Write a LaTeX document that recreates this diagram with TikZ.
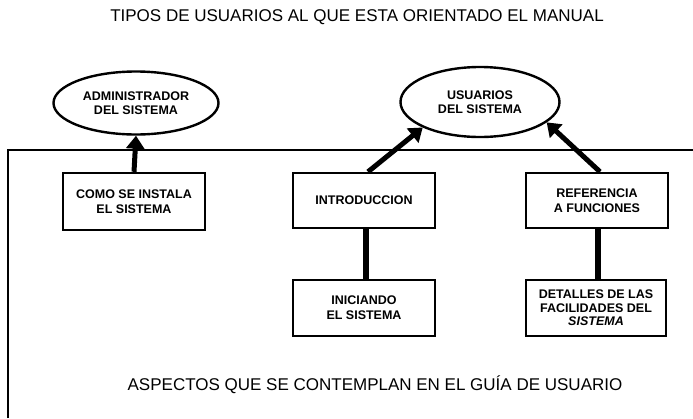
\documentclass[tikz,border=0pt]{standalone}
\usepackage{fontspec}
\setmainfont{Liberation Sans}
\usetikzlibrary{shapes.geometric,arrows.meta}
\begin{document}
\begin{tikzpicture}[x=1pt,y=-1pt,
  boxnode/.style={draw,line width=2.4pt,minimum width=142pt,minimum height=56pt,inner sep=0pt,align=center,font=\fontsize{12.5}{15}\selectfont\bfseries},
  ovalnode/.style={draw,ellipse,line width=2.4pt,inner sep=0pt,align=center,font=\fontsize{12.5}{14.5}\selectfont\bfseries},
  titletext/.style={font=\fontsize{17}{20}\selectfont,inner sep=0pt},
  thickline/.style={line width=5.5pt},
  thickarrow/.style={line width=5pt,-{Triangle[width=18pt,length=13pt]}},
  frameline/.style={line width=1.3pt}]
\useasboundingbox (0,0) rectangle (693,418);
\node[titletext] (title) at (357,17) {TIPOS DE USUARIOS AL QUE ESTA ORIENTADO EL MANUAL};
\node[titletext] (bottom) at (375,385) {ASPECTOS QUE SE CONTEMPLAN EN EL GUÍA DE USUARIO};
\coordinate (fbl) at (8,418);
\coordinate (ftl) at (8,150);
\coordinate (ftr) at (693,150);
\draw[frameline] (fbl) -- (ftl) -- (ftr);
\node[ovalnode,minimum width=165pt,minimum height=63pt] (admin) at (136,103) {ADMINISTRADOR\\DEL SISTEMA};
\node[ovalnode,minimum width=159pt,minimum height=70pt] (usu) at (480,102) {USUARIOS\\DEL SISTEMA};
\node[boxnode,minimum height=57pt] (como) at (134,201.5) {COMO SE INSTALA\\EL SISTEMA};
\node[boxnode,minimum height=55pt] (intro) at (364,200.5) {INTRODUCCION};
\node[boxnode] (inic) at (364,308) {INICIANDO\\EL SISTEMA};
\node[boxnode,minimum height=55pt] (ref) at (597,200.5) {REFERENCIA\\A FUNCIONES};
\node[boxnode,minimum width=140pt,font=\fontsize{12.5}{13.5}\selectfont\bfseries] (det) at (596,308) {DETALLES DE LAS\\FACILIDADES DEL\\\itshape SISTEMA};
\draw[thickarrow] (como.north) -- (admin.south);
\draw[thickarrow] ([xshift=4pt]intro.north) -- (usu.204);
\draw[thickarrow] ([xshift=3pt]ref.north) -- (usu.343);
\draw[thickline] ([xshift=2pt]intro.south) -- ([xshift=2pt]inic.north);
\draw[thickline] ([xshift=1pt]ref.south) -- ([xshift=2pt]det.north);
\end{tikzpicture}
\end{document}
